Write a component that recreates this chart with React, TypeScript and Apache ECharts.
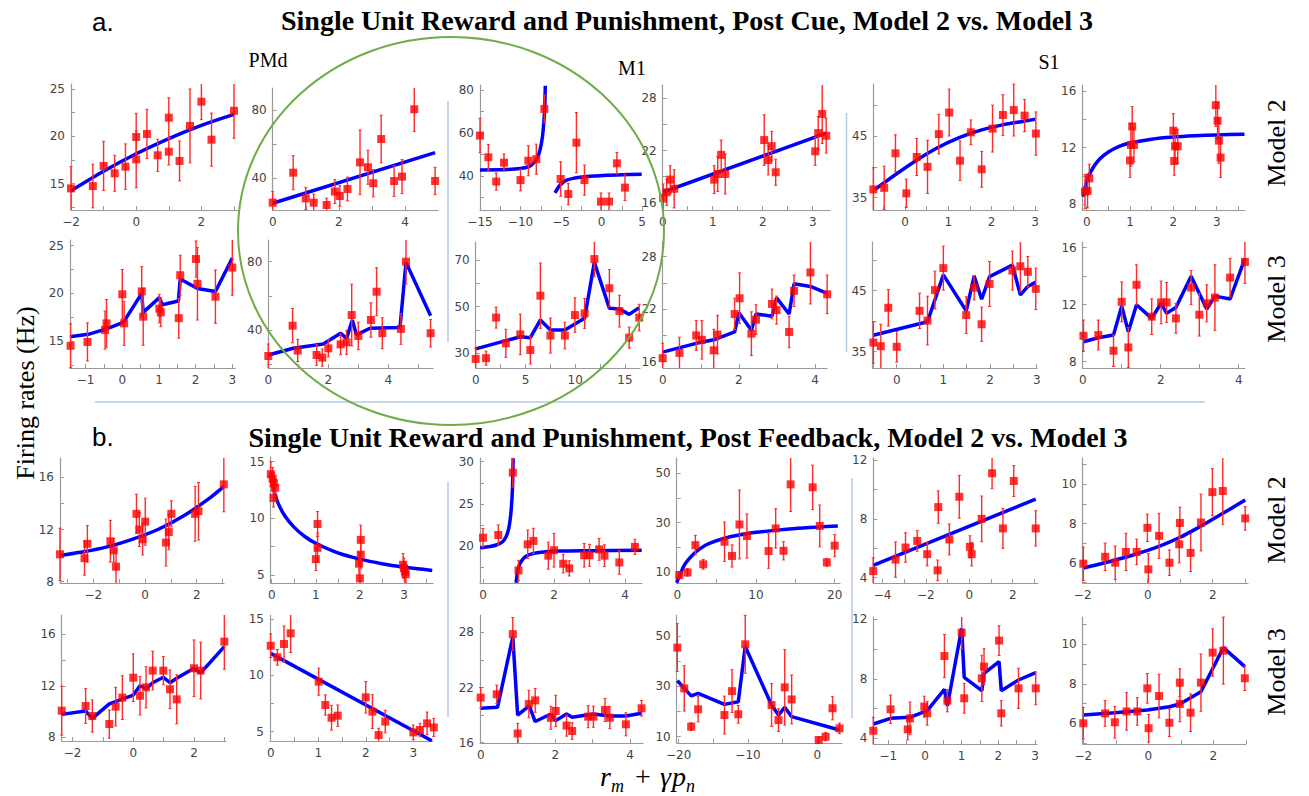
import React, { useEffect, useRef } from "react";
import * as echarts from "echarts";

// ---------- DATA: points are [x, y, errorHalfWidth]; fits are [x, y] ----------
// Row a / Model 2
const p11Pts = [[-2,14.5,2.3],[-1.33,14.75,2.3],[-1.0,16.87,2.6],[-0.66,16.1,1.9],[-0.33,16.8,2.4],[0,17.57,3.0],[0,19.93,2.5],[0.33,20.25,2.6],[0.66,18.0,1.7],[1.0,21.97,2.1],[1.0,18.38,1.4],[1.33,17.4,2.1],[1.65,21.1,3.9],[2.0,23.66,1.9],[2.31,19.65,2.8],[3.0,22.7,2.9]];
const p11Fit = [[-2,14.26],[-1,16.32],[0,18.16],[1,19.77],[2,21.16],[3,22.32]];
const p12Pts = [[0,25.7,6.5],[0.62,43.3,10],[1.0,28.2,6.5],[1.24,25.7,5],[1.63,24.3,4],[1.88,32.2,7],[2.03,29.6,6],[2.26,33.7,7],[2.64,49.4,19],[2.88,46.5,10],[3.04,37.1,8],[3.28,63.1,14],[3.67,38.4,9],[3.91,41,10],[4.28,80.6,13],[4.91,38.4,8]];
const p12Fit = [[0,25.3],[4.91,55.1]];
const p13Pts = [[-15,58.8,8],[-13.97,48.7,6],[-13.0,37.4,4],[-12.04,46.2,4],[-10.0,38.1,5],[-9.03,47.1,7],[-8.05,47.8,7],[-7.06,71.2,6.5],[-5.04,38.6,8],[-4.1,31.6,5],[-3.1,55.5,14],[-2.1,38.1,7],[-0.06,28.1,4],[0.93,28.1,4],[1.9,45.9,5],[2.9,34.6,6]];
const p13FitA = [[-15,42.8],[-12,43.0],[-10,43.5],[-9,44.3],[-8.5,45.6],[-8,47.8],[-7.6,52],[-7.3,58],[-7.1,66],[-7.0,73],[-6.94,82]];
const p13FitB = [[-5.74,32.2],[-5.4,34.3],[-5.12,35.8],[-4.7,37.2],[-4.3,38.1],[-3.5,38.9],[-2.65,39.4],[-1,40.0],[0.64,40.3],[2.5,40.6],[4.96,40.8]];
const p14Pts = [[0.01,16.55,1.6],[0.08,17.2,1.5],[0.15,18.65,1.6],[0.23,17.6,2.2],[1.03,18.65,1.6],[1.1,19.3,2],[1.17,21.5,1.7],[1.25,19.3,2.3],[2.03,23.2,2.9],[2.11,20.9,1.7],[2.18,22.5,1.7],[2.26,19.5,1.5],[3.05,21.9,1.6],[3.11,24.0,1.9],[3.19,26.2,3.4],[3.27,23.7,2]];
const p14Fit = [[0,17.2],[3.27,24.0]];
const p15Pts = [[-0.73,36.35,3.5],[-0.48,36.6,3.5],[-0.22,42.2,3],[0.03,35.7,2.3],[0.27,41.6,3],[0.52,40.0,4.3],[0.78,45.3,3.2],[1.02,48.8,3.8],[1.27,41.0,3.2],[1.52,45.6,2],[1.77,39.6,2.9],[2.02,46.2,3.8],[2.26,48.4,3.3],[2.51,49.2,4.2],[2.76,48.3,2.6],[3.02,45.4,3.5]];
const p15Fit = [[-0.69,36.35],[-0.25,38.6],[0.25,41.0],[0.75,43.1],[1.25,44.75],[1.75,45.95],[2.25,46.8],[2.75,47.4],[3.0,47.7]];
const p16Pts = [[-0.04,8.9,1.2],[0.02,8.95,1.2],[0.06,9.84,1.0],[1.0,11.1,1.2],[1.02,12.2,1.5],[1.05,13.5,1.4],[1.09,12.2,1.2],[2.0,13.2,1.2],[2.02,11.06,1.0],[2.04,12.1,1.2],[2.1,12.1,1.2],[2.98,15.0,1.5],[3.02,13.9,1.3],[3.05,12.5,1.6],[3.09,11.3,1.4]];
const p16Fit = [[-0.077,8.54],[-0.03,9.3],[0.04,9.95],[0.15,10.6],[0.3,11.2],[0.5,11.7],[0.75,12.1],[1.0,12.33],[1.5,12.6],[2.0,12.75],[2.5,12.84],[3.0,12.9],[3.64,12.95]];
// Row a / Model 3
const p21Pts = [[-1.41,14.5,2.3],[-0.95,14.9,2.0],[-0.47,16.15,2.0],[-0.43,16.85,2.5],[0,19.9,2.6],[0.05,16.85,2.3],[0.53,20.2,2.6],[0.57,17.55,3.0],[1.01,18.4,1.5],[1.05,18.0,1.5],[1.54,17.4,2.1],[1.58,21.9,2.1],[2.01,23.6,1.9],[2.05,21.0,3.8],[2.54,19.65,2.8],[3.0,22.7,2.9]];
const p21Fit = [[-1.43,15.45],[-0.93,15.7],[-0.45,16.25],[0.03,16.95],[0.53,20.0],[0.57,18.0],[1.01,19.55],[1.09,18.8],[1.53,19.2],[1.58,21.5],[2.05,20.5],[2.54,20.2],[3.0,23.7]];
const p22Pts = [[0,25.0,7],[0.81,42.7,10],[0.98,28.2,6.5],[1.61,25.6,6],[1.8,24.1,5],[2.0,29.5,5],[2.41,31.8,6],[2.61,33.0,7],[2.78,48.9,18],[3.0,36.7,8],[3.42,46.0,10],[3.61,62.5,14],[3.8,38.3,9],[4.42,40.8,9],[4.59,80.0,13],[5.41,38.3,8]];
const p22Fit = [[0,25.6],[0.83,29.5],[1.83,32.0],[2.41,38.3],[2.61,35.3],[2.8,46.0],[2.94,37.3],[3.39,41.2],[4.39,41.6],[4.59,79.6],[5.41,48.5]];
const p23Pts = [[0,27.6,4.5],[1.04,27.9,3],[2.05,45.3,4.5],[3.03,34.3,6],[4.48,38.1,8.7],[5.49,31.4,6],[6.5,54.7,14],[7.51,37.6,7.5],[8.96,37.6,5.7],[9.97,46.4,7.4],[10.94,47.1,6.4],[11.92,70.4,7.6],[13.43,57.9,8],[14.44,48.1,6.8],[15.42,36.7,4.5],[16.43,45.3,5.7]];
const p23Fit = [[0,31.9],[4.48,37.1],[5.49,36.7],[6.5,44.3],[7.51,40],[8.96,40],[10.94,45],[11.92,69],[13.43,49.3],[14.44,49],[15.42,46.7],[16.43,49.6]];
const p24Pts = [[0,16.4,1.7],[0.44,17.0,1.8],[0.88,19.0,1.7],[1.03,18.5,2.2],[1.34,17.3,2.4],[1.44,19.1,2.2],[1.89,21.45,1.8],[2.02,23.25,2.9],[2.33,19.2,2.5],[2.45,20.8,1.7],[2.87,22.6,1.7],[2.99,21.9,1.6],[3.32,19.4,1.8],[3.45,24.1,1.8],[3.88,26.2,3.6],[4.32,23.7,2.2]];
const p24Fit = [[0,17.1],[0.88,18.1],[1.34,18.5],[1.89,19.4],[2.0,21.6],[2.33,19.6],[2.45,21.45],[2.87,21.2],[2.99,23.3],[3.32,21.45],[3.45,24.9],[3.88,24.6],[4.32,23.8]];
const p25Pts = [[-0.5,36.5,3.4],[-0.34,35.9,3.6],[-0.18,42.2,3],[0,35.8,2.5],[0.49,41.7,2.9],[0.66,40.1,4],[0.82,45.1,3.1],[1.0,48.7,3.6],[1.49,41.0,3],[1.66,45.5,2],[1.82,39.5,2.8],[1.99,46.1,3.7],[2.48,48.3,3.2],[2.65,49.0,4.2],[2.81,48.1,2.5],[2.98,45.3,3.4]];
const p25Fit = [[-0.5,37.7],[-0.18,38.3],[0.66,39.9],[1.0,47.6],[1.49,41.7],[1.66,47.4],[1.82,43.6],[1.99,47.3],[2.48,49.2],[2.65,44.3],[2.81,45.7],[2.98,46.4]];
const p26Pts = [[0.02,9.82,1.1],[0.4,9.87,1.05],[0.79,8.77,1.1],[1.0,12.2,1.4],[1.17,9.0,1.4],[1.38,13.4,1.4],[1.77,11.16,1.25],[2.01,12.16,1.5],[2.15,12.16,1.4],[2.39,11.04,1.05],[2.78,13.2,1.2],[2.99,11.3,1.5],[3.18,12.1,1.3],[3.39,12.5,2.3],[3.78,13.9,1.35],[4.16,15.0,1.5]];
const p26Fit = [[0.02,9.4],[0.4,9.68],[0.79,9.87],[1.0,11.9],[1.17,10.1],[1.38,12.0],[1.77,11.04],[2.01,12.1],[2.15,11.4],[2.39,11.8],[2.78,14.0],[3.18,11.7],[3.39,12.6],[3.78,12.4],[4.16,15.25]];
// Row b / Model 2
const p31Pts = [[-3.29,10.1,2],[-2.34,9.8,1.3],[-2.23,10.9,1.4],[-1.34,11.1,1.6],[-1.21,10.4,0.9],[-1.12,9.15,1.3],[-0.33,13.2,1.5],[-0.22,12.0,1.3],[-0.09,11.25,1.2],[0.01,12.6,1.8],[0.81,11.0,1.8],[0.92,11.8,1.35],[1.02,13.2,1.0],[1.94,13.2,2.1],[2.07,13.4,2.2],[3.05,15.46,2.1]];
const p31Fit = [[-3.29,10.0],[-2.5,10.25],[-1.5,10.65],[-0.5,11.25],[0.5,12.0],[1.5,13.05],[2.5,14.4],[3.05,15.3]];
const p32Pts = [[-0.02,13.9,1.1],[0.02,13.5,1.0],[0.05,13.1,0.9],[0.08,12.7,0.8],[0.04,11.8,0.8],[1.0,6.4,1.0],[1.04,9.5,1.1],[1.04,7.4,1.3],[1.98,6.0,1.0],[2.02,8.1,1.3],[2.02,6.8,1.2],[2.0,4.7,0.8],[2.98,5.9,1.0],[3.0,5.6,0.9],[3.02,5.3,0.8],[3.04,5.06,0.7]];
const p32Fit = [[-0.02,14.1],[0.02,13.1],[0.07,12.2],[0.15,11.3],[0.3,10.2],[0.5,9.25],[0.75,8.4],[1.0,7.8],[1.5,6.95],[2.0,6.4],[2.5,6.0],[3.0,5.7],[3.64,5.4]];
const p33Pts = [[0,20.98,1.1],[0.43,21.3,1.2],[0.84,28.7,1.7],[1.0,17.1,1.2],[1.26,20.2,1.7],[1.42,20.6,1.5],[1.84,18.85,1.6],[2.0,19.5,2],[2.26,17.9,1.1],[2.43,17.35,0.9],[2.85,18.9,1.4],[3.0,18.9,1.3],[3.27,19.6,1.3],[3.42,18.85,1.3],[3.84,18.05,1.4],[4.28,19.9,0.9]];
const p33FitA = [[-0.08,19.8],[0.2,19.95],[0.4,20.15],[0.55,20.5],[0.65,21.1],[0.72,22.0],[0.77,23.3],[0.8,24.6],[0.83,26.8],[0.85,30.4]];
const p33FitB = [[0.93,15.65],[0.97,16.8],[1.02,17.7],[1.1,18.3],[1.2,18.75],[1.4,19.1],[1.7,19.3],[2.1,19.4],[3.0,19.45],[4.47,19.5]];
const p34Pts = [[0.25,8.6,1.5],[1.3,9.7,1.5],[2.3,20.8,4],[3.3,13.0,2],[6.0,22.2,8],[6.95,16.4,4.5],[7.9,29.2,14],[8.85,24.5,9],[11.6,18.4,7],[12.5,27.6,8],[13.5,18.5,3.7],[14.4,45.5,11],[17.2,44.3,9],[18.1,28.6,8.5],[19.0,13.8,1.6],[20.0,20.6,4.5]];
const p34Fit = [[-0.08,5.5],[0.5,10.0],[1,13.2],[2,17.0],[3,19.6],[4,21.4],[6,23.6],[8,25.0],[10,26.0],[13,27.0],[16,27.8],[20.4,28.6]];
const p35Pts = [[-4.43,4.45,0.9],[-3.4,5.23,1.2],[-2.94,6.05,1.0],[-2.4,6.5,0.7],[-1.94,5.6,0.8],[-1.43,8.8,1.1],[-1.46,4.5,0.7],[-0.92,6.6,1.05],[-0.46,9.5,1.45],[0.03,6.1,0.75],[0.11,5.6,0.8],[0.57,8.0,1.55],[1.05,11.1,1.05],[1.55,7.35,1.35],[2.05,10.57,1.05],[3.06,7.35,1.2]];
const p35Fit = [[-4.43,4.84],[3.06,9.34]];
const p36Pts = [[-1.98,5.95,0.85],[-1.31,6.3,0.7],[-1.0,6.0,0.85],[-0.67,6.55,0.95],[-0.34,6.55,0.65],[-0.01,7.78,0.7],[0.02,5.66,0.8],[0.35,7.37,1.15],[0.67,6.0,0.65],[0.97,6.94,0.95],[0.99,8.03,0.8],[1.32,6.5,0.95],[1.64,8.05,1.45],[1.99,9.6,1.2],[2.31,9.66,1.7],[3.0,8.26,0.6]];
const p36Fit = [[-1.98,5.73],[-1.5,5.92],[-1,6.14],[-0.5,6.37],[0,6.63],[0.5,6.94],[1,7.3],[1.5,7.74],[2,8.22],[2.5,8.7],[3.0,9.2]];
// Row b / Model 3
const p41Pts = [[-2.36,10.07,1.9],[-1.57,10.43,1.35],[-1.35,9.65,1.25],[-0.79,9.03,1.1],[-0.58,10.38,1.5],[-0.36,11.08,1.7],[0,12.63,1.85],[0.22,11.23,1.5],[0.42,11.88,1.6],[0.64,13.18,1.5],[0.99,13.18,1.1],[1.21,11.73,1.5],[1.43,10.95,1.9],[2.0,13.36,2.2],[2.22,13.18,2.2],[3.0,15.43,2.15]];
const p41Fit = [[-2.36,9.78],[-1.57,10.04],[-1.35,9.47],[-0.79,10.59],[0,11.28],[0.22,12.0],[0.44,11.8],[0.64,12.24],[0.99,12.66],[1.21,12.24],[1.43,12.58],[2.0,13.36],[2.22,13.0],[3.0,15.04]];
const p42Pts = [[0,12.63,1.05],[0.14,11.6,0.7],[0.28,12.78,1.6],[0.42,13.73,1.7],[1.01,9.44,1.2],[1.15,7.37,0.9],[1.28,6.24,1.1],[1.41,6.42,0.95],[2.0,8.05,1.4],[2.14,6.78,1.5],[2.27,4.7,0.6],[2.41,5.9,1.0],[3.0,4.94,0.65],[3.14,5.15,0.6],[3.29,5.74,1.0],[3.43,5.38,0.8]];
const p42Fit = [[0,11.95],[3.39,4.2]];
const p43Pts = [[0,20.9,1.1],[0.43,21.26,1.0],[0.86,27.8,1.8],[0.99,17.0,1.1],[1.29,20.2,1.5],[1.46,20.6,1.3],[1.88,18.7,1.25],[2.01,19.45,1.7],[2.3,17.86,1.15],[2.45,17.27,0.9],[2.88,18.83,1.2],[3.02,18.83,1.15],[3.33,19.56,1.25],[3.46,18.72,1.2],[3.89,18.0,1.25],[4.31,19.74,0.85]];
const p43Fit = [[0,19.74],[0.45,19.85],[0.86,27.5],[0.99,19.0],[1.3,20.0],[1.46,18.3],[1.88,19.12],[2.01,18.4],[2.3,19.12],[2.45,18.76],[3.02,19.12],[3.46,18.9],[3.89,18.9],[4.31,19.2]];
const p44Pts = [[-20.2,45.4,9.5],[-19.2,29.2,9],[-18.2,14.0,1.5],[-17.2,20.9,5],[-13.4,18.6,7.5],[-12.3,28.1,8.5],[-11.4,18.9,3.5],[-10.4,46.7,11.5],[-6.6,22.6,8.5],[-5.6,16.6,4.5],[-4.7,29.6,15],[-3.7,24.8,9.7],[0.2,8.7,1.2],[1.2,10.0,1.6],[2.2,21.3,4.6],[3.2,13.3,2.1]];
const p44Fit = [[-20.2,32.25],[-18.2,26.2],[-17.2,27.2],[-13.4,22.85],[-11.4,23.9],[-10.4,45.8],[-6.6,22.6],[-5.6,18.6],[-4.7,21.7],[-3.7,17.95],[3.2,12.65]];
const p45Pts = [[-1.41,4.51,0.9],[-0.94,5.95,0.95],[-0.47,4.6,0.7],[-0.41,5.34,1.1],[-0.02,6.13,0.7],[0.06,5.68,0.8],[0.53,9.53,1.45],[0.61,6.53,0.75],[1.0,11.1,1.1],[1.07,6.69,1.0],[1.55,8.03,1.55],[1.61,8.82,1.2],[2.02,10.57,1.0],[2.08,5.68,0.85],[2.55,7.36,1.35],[3.02,7.36,1.1]];
const p45Fit = [[-1.41,4.96],[-0.94,5.34],[-0.41,5.41],[0.06,5.86],[0.53,7.29],[0.61,6.17],[1.0,11.4],[1.07,8.1],[1.55,7.2],[1.61,8.37],[2.02,9.15],[2.08,7.2],[2.55,7.92],[3.02,8.41]];
const p46Pts = [[-2.0,6.0,0.8],[-1.33,6.5,0.65],[-1.03,6.05,0.8],[-0.67,6.6,0.95],[-0.34,6.6,0.7],[-0.03,7.77,0.75],[0.01,5.75,0.7],[0.33,7.38,1.1],[0.65,6.03,0.7],[0.97,8.06,0.7],[0.97,6.98,0.9],[1.3,6.54,0.95],[1.62,8.06,1.45],[1.98,9.58,1.2],[2.31,9.68,1.7],[2.97,8.28,0.62]];
const p46Fit = [[-2.0,6.42],[-1.03,6.54],[-0.03,6.67],[0.65,6.84],[0.97,6.98],[1.62,7.6],[2.31,9.83],[2.97,8.87]];

// tick labels
const p11XT = [-2,0,2], p11YT = [15,20,25];
const p12XT = [0,2,4], p12YT = [40,80];
const p13XT = [-15,-10,-5,0,5], p13YT = [40,60,80];
const p14XT = [0,1,2,3], p14YT = [16,22,28];
const p15XT = [0,1,2,3], p15YT = [35,45];
const p16XT = [0,1,2,3], p16YT = [8,12,16];
const p21XT = [-1,0,1,2,3], p21YT = [15,20,25];
const p22XT = [0,2,4], p22YT = [40,80];
const p23XT = [0,5,10,15], p23YT = [30,50,70];
const p24XT = [0,2,4], p24YT = [16,22,28];
const p25XT = [0,1,2,3], p25YT = [35,45];
const p26XT = [0,2,4], p26YT = [8,12,16];
const p31XT = [-2,0,2], p31YT = [8,12,16];
const p32XT = [0,1,2,3], p32YT = [5,10,15];
const p33XT = [0,2,4], p33YT = [20,25,30];
const p34XT = [0,10,20], p34YT = [10,30,50];
const p35XT = [-4,-2,0,2], p35YT = [4,8,12];
const p36XT = [-2,0,2], p36YT = [6,8,10];
const p41XT = [-2,0,2], p41YT = [8,12,16];
const p42XT = [0,1,2,3], p42YT = [5,10,15];
const p43XT = [0,2,4], p43YT = [16,22,28];
const p44XT = [-20,-10,0], p44YT = [10,30,50];
const p45XT = [-1,0,1,2,3], p45YT = [4,8,12];
const p46XT = [-2,0,2], p46YT = [6,8,10];

// texts
const titleA = "Single Unit Reward and Punishment, Post Cue, Model 2 vs. Model 3";
const titleB = "Single Unit Reward and Punishment, Post Feedback, Model 2 vs. Model 3";
const areaNames = ["PMd", "M1", "S1"];
const rowNames = ["Model 2", "Model 3", "Model 2", "Model 3"];
const yTitle = "Firing rates (Hz)";

// ---------- panel composition ----------
const panels = [
  { pts: p11Pts, fits: [p11Fit], smooth: true, xt: p11XT, yt: p11YT },
  { pts: p12Pts, fits: [p12Fit], smooth: true, xt: p12XT, yt: p12YT },
  { pts: p13Pts, fits: [p13FitA, p13FitB], smooth: true, xt: p13XT, yt: p13YT },
  { pts: p14Pts, fits: [p14Fit], smooth: true, xt: p14XT, yt: p14YT },
  { pts: p15Pts, fits: [p15Fit], smooth: true, xt: p15XT, yt: p15YT },
  { pts: p16Pts, fits: [p16Fit], smooth: true, xt: p16XT, yt: p16YT },
  { pts: p21Pts, fits: [p21Fit], smooth: false, xt: p21XT, yt: p21YT },
  { pts: p22Pts, fits: [p22Fit], smooth: false, xt: p22XT, yt: p22YT },
  { pts: p23Pts, fits: [p23Fit], smooth: false, xt: p23XT, yt: p23YT },
  { pts: p24Pts, fits: [p24Fit], smooth: false, xt: p24XT, yt: p24YT },
  { pts: p25Pts, fits: [p25Fit], smooth: false, xt: p25XT, yt: p25YT },
  { pts: p26Pts, fits: [p26Fit], smooth: false, xt: p26XT, yt: p26YT },
  { pts: p31Pts, fits: [p31Fit], smooth: true, xt: p31XT, yt: p31YT },
  { pts: p32Pts, fits: [p32Fit], smooth: true, xt: p32XT, yt: p32YT },
  { pts: p33Pts, fits: [p33FitA, p33FitB], smooth: true, xt: p33XT, yt: p33YT },
  { pts: p34Pts, fits: [p34Fit], smooth: true, xt: p34XT, yt: p34YT },
  { pts: p35Pts, fits: [p35Fit], smooth: true, xt: p35XT, yt: p35YT },
  { pts: p36Pts, fits: [p36Fit], smooth: true, xt: p36XT, yt: p36YT },
  { pts: p41Pts, fits: [p41Fit], smooth: false, xt: p41XT, yt: p41YT },
  { pts: p42Pts, fits: [p42Fit], smooth: false, xt: p42XT, yt: p42YT },
  { pts: p43Pts, fits: [p43Fit], smooth: false, xt: p43XT, yt: p43YT },
  { pts: p44Pts, fits: [p44Fit], smooth: false, xt: p44XT, yt: p44YT },
  { pts: p45Pts, fits: [p45Fit], smooth: false, xt: p45XT, yt: p45YT },
  { pts: p46Pts, fits: [p46Fit], smooth: false, xt: p46XT, yt: p46YT },
];

// layout: plot box in px, and two calibration pairs [value, px, value, px] per axis
const layouts = [
  { l: 71, r: 240, t: 84, b: 210, x: [-2, 71, 3, 234], y: [25, 89, 15, 183.7] },
  { l: 272.7, r: 438, t: 88, b: 210, x: [0, 272.7, 4, 405], y: [80, 110.3, 40, 178.3] },
  { l: 480, r: 643, t: 85, b: 210, x: [-15, 480, 5, 642], y: [80, 90, 40, 176] },
  { l: 662.7, r: 830, t: 85, b: 210, x: [0, 662.7, 3, 812.7], y: [28, 98.3, 16, 202.7] },
  { l: 873.3, r: 1038, t: 84, b: 210, x: [0, 905, 3, 1035], y: [45, 136, 35, 197.7] },
  { l: 1082.3, r: 1245, t: 85, b: 210, x: [0, 1086.7, 3, 1216.7], y: [16, 91, 12, 147.7] },
  { l: 70, r: 235, t: 240, b: 368, x: [0, 122.3, 3, 232.3], y: [25, 245.7, 15, 341] },
  { l: 268.3, r: 433, t: 240, b: 368, x: [0, 268.3, 4, 388.3], y: [80, 261.7, 40, 330.3] },
  { l: 475.7, r: 640, t: 242, b: 368, x: [0, 475.7, 15, 625], y: [70, 260, 30, 353.3] },
  { l: 662.7, r: 827, t: 242, b: 368, x: [0, 662.7, 4, 815], y: [28, 256.7, 16, 361.7] },
  { l: 872.7, r: 1037, t: 242, b: 368, x: [0, 896.7, 3, 1036.7], y: [45, 290.7, 35, 351.7] },
  { l: 1082.7, r: 1245, t: 242, b: 368, x: [0, 1082.7, 4, 1238.7], y: [16, 247.7, 8, 361.7] },
  { l: 60, r: 224, t: 458, b: 583, x: [0, 145, 2, 196.7], y: [16, 477.3, 8, 581.7] },
  { l: 270.7, r: 433, t: 457, b: 583, x: [0, 271.7, 3, 404], y: [15, 461.7, 5, 575] },
  { l: 480, r: 642, t: 458, b: 583, x: [0, 483, 4, 625], y: [30, 461.7, 20, 546] },
  { l: 676.7, r: 840, t: 458, b: 583, x: [0, 677.3, 20, 834.7], y: [50, 473.3, 10, 571.7] },
  { l: 873.3, r: 1038, t: 458, b: 583, x: [0, 969.3, 2, 1012.7], y: [12, 460, 4, 577.7] },
  { l: 1082.7, r: 1248, t: 458, b: 583, x: [0, 1147.7, 2, 1212.7], y: [10, 484.3, 6, 562.7] },
  { l: 61.7, r: 226, t: 615, b: 741, x: [0, 133.3, 2, 194], y: [16, 634.3, 8, 737.3] },
  { l: 270, r: 433, t: 615, b: 741, x: [0, 270.7, 3, 413.3], y: [15, 619, 5, 731.7] },
  { l: 480, r: 643, t: 615, b: 743, x: [0, 480.7, 4, 630], y: [28, 632.3, 16, 742.7] },
  { l: 676.7, r: 842, t: 615, b: 743, x: [-20, 678.7, 0, 817.3], y: [50, 636, 10, 736.7] },
  { l: 873.3, r: 1037, t: 617, b: 744, x: [0, 925, 3, 1035], y: [12, 619.3, 4, 738.3] },
  { l: 1082.7, r: 1246, t: 617, b: 744, x: [0, 1148.3, 2, 1213.3], y: [10, 644.3, 6, 723.3] },
];

const RED = "#ff0000";
const BLUE = "#0000ff";
const AXIS = "#9a9a9a";
const LABEL = "#444444";
const SERIF = "'Liberation Serif', 'DejaVu Serif', serif";
const SANS = "'DejaVu Sans', 'Liberation Sans', sans-serif";

function ranges(lay: any) {
  const sx = (lay.x[3] - lay.x[1]) / (lay.x[2] - lay.x[0]);
  const sy = (lay.y[3] - lay.y[1]) / (lay.y[2] - lay.y[0]);
  return {
    xmin: lay.x[0] + (lay.l - lay.x[1]) / sx,
    xmax: lay.x[0] + (lay.r - lay.x[1]) / sx,
    ymax: lay.y[0] + (lay.t - lay.y[1]) / sy,
    ymin: lay.y[0] + (lay.b - lay.y[1]) / sy,
  };
}

function tickValues(major: number[], min: number, max: number) {
  const step = (major[1] - major[0]) / 2;
  const out: number[] = [];
  const start = Math.ceil((min - major[0]) / step - 1e-9);
  for (let k = start; major[0] + k * step <= max + 1e-9; k++) {
    out.push(+(major[0] + k * step).toFixed(6));
  }
  return out;
}

const fmt = (v: number) => (v < 0 ? "\u2212" + Math.abs(v) : String(v));

function buildOption() {
  const grid: any[] = [];
  const xAxis: any[] = [];
  const yAxis: any[] = [];
  const series: any[] = [];
  panels.forEach((p, i) => {
    const lay = layouts[i];
    const rg = ranges(lay);
    grid.push({ left: lay.l, top: lay.t, width: lay.r - lay.l, height: lay.b - lay.t, containLabel: false });
    const axisCommon = {
      type: "value",
      gridIndex: i,
      splitLine: { show: false },
      axisLine: { show: true, onZero: false, lineStyle: { color: AXIS, width: 1.2 } },
    };
    xAxis.push({
      ...axisCommon,
      min: rg.xmin,
      max: rg.xmax,
      axisTick: { show: true, inside: true, length: 4, customValues: tickValues(p.xt, rg.xmin, rg.xmax), lineStyle: { color: AXIS } },
      axisLabel: { customValues: p.xt, formatter: fmt, fontSize: 12, color: LABEL, fontFamily: SANS, margin: 6 },
    });
    yAxis.push({
      ...axisCommon,
      min: rg.ymin,
      max: rg.ymax,
      axisTick: { show: true, inside: true, length: 4, customValues: tickValues(p.yt, rg.ymin, rg.ymax), lineStyle: { color: AXIS } },
      axisLabel: { customValues: p.yt, formatter: fmt, fontSize: 12, color: LABEL, fontFamily: SANS, margin: 6 },
    });
    p.fits.forEach((f) => {
      series.push({
        type: "line",
        xAxisIndex: i,
        yAxisIndex: i,
        data: f,
        smooth: p.smooth ? 0.3 : false,
        symbol: "none",
        showSymbol: false,
        lineStyle: { color: BLUE, width: 3.5 },
        z: 2,
        silent: true,
        clip: true,
      });
    });
    series.push({
      type: "custom",
      xAxisIndex: i,
      yAxisIndex: i,
      data: p.pts,
      encode: { x: 0, y: 1 },
      z: 3,
      silent: true,
      renderItem: (params: any, api: any) => {
        const x = api.value(0), y = api.value(1), e = api.value(2);
        const hiV = Math.min(y + e, rg.ymax), loV = Math.max(y - e, rg.ymin);
        const a = api.coord([x, hiV]);
        const b = api.coord([x, loV]);
        const children: any[] = [
          { type: "line", shape: { x1: a[0], y1: a[1], x2: b[0], y2: b[1] }, style: { stroke: "#ff2a2a", lineWidth: 1.4 } },
        ];
        if (y + e <= rg.ymax) children.push({ type: "line", shape: { x1: a[0] - 1.5, y1: a[1], x2: a[0] + 1.5, y2: a[1] }, style: { stroke: "#ff2a2a", lineWidth: 1 } });
        if (y - e >= rg.ymin) children.push({ type: "line", shape: { x1: b[0] - 1.5, y1: b[1], x2: b[0] + 1.5, y2: b[1] }, style: { stroke: "#ff2a2a", lineWidth: 1 } });
        return { type: "group", children };
      },
    });
    series.push({
      type: "scatter",
      xAxisIndex: i,
      yAxisIndex: i,
      data: p.pts.map((q) => [q[0], q[1]]),
      symbol: "rect",
      symbolSize: 8,
      itemStyle: { color: RED },
      z: 4,
      silent: true,
      clip: false,
    });
  });

  const txt = (x: number, y: number, text: string, size: number, opts: any = {}) => ({
    type: "text",
    x,
    y,
    rotation: opts.rotation || 0,
    z: 20,
    silent: true,
    style: {
      text,
      fontSize: size,
      fontFamily: opts.family || SERIF,
      fontWeight: opts.weight || "normal",
      fontStyle: opts.style || "normal",
      fill: opts.fill || "#000",
      align: opts.align || "center",
      textAlign: opts.align || "center",
      verticalAlign: "middle",
      textVerticalAlign: "middle",
    },
  });

  const sep = (x1: number, y1: number, x2: number, y2: number) => ({
    type: "line",
    silent: true,
    z: 1,
    shape: { x1, y1, x2, y2 },
    style: { stroke: "#b4c7e7", lineWidth: 1.5 },
  });

  const graphic: any[] = [
    sep(448, 101, 448, 342),
    sep(846.5, 113, 846.5, 352),
    sep(448, 482, 448, 717),
    sep(852, 478, 852, 718),
    sep(95, 402, 1205, 402),
    {
      type: "ellipse",
      silent: true,
      z: 15,
      shape: { cx: 451, cy: 231, rx: 213, ry: 194 },
      style: { fill: "none", stroke: "#70ad47", lineWidth: 2 },
    },
    txt(92, 22, "a.", 26, { family: "'Liberation Sans', Arial, sans-serif", align: "left" }),
    txt(92, 437, "b.", 26, { family: "'Liberation Sans', Arial, sans-serif", align: "left" }),
    txt(687, 20, titleA, 28, { weight: "bold" }),
    txt(688, 437, titleB, 28, { weight: "bold" }),
    txt(268, 60, areaNames[0], 20),
    txt(632, 68, areaNames[1], 20),
    txt(1049, 62, areaNames[2], 20),
    txt(25, 393, yTitle, 26, { rotation: Math.PI / 2 }),
    txt(1276, 143, rowNames[0], 26, { rotation: Math.PI / 2 }),
    txt(1276, 299, rowNames[1], 26, { rotation: Math.PI / 2 }),
    txt(1276, 520, rowNames[2], 26, { rotation: Math.PI / 2 }),
    txt(1276, 672, rowNames[3], 26, { rotation: Math.PI / 2 }),
    txt(600, 776, "r", 28, { style: "italic", align: "left" }),
    txt(611, 786, "m", 18, { style: "italic", align: "left" }),
    txt(635, 776, "+", 28, { align: "left" }),
    txt(660, 776, "\u03b3", 28, { style: "italic", align: "left" }),
    txt(672, 776, "p", 28, { style: "italic", align: "left" }),
    txt(686, 786, "n", 18, { style: "italic", align: "left" }),
  ];

  return { animation: false, backgroundColor: "#ffffff", grid, xAxis, yAxis, series, graphic };
}

export default function App() {
  const ref = useRef<HTMLDivElement>(null);
  useEffect(() => {
    if (!ref.current) return;
    const chart = echarts.init(ref.current, undefined, { renderer: "svg" });
    chart.setOption(buildOption() as any);
    return () => chart.dispose();
  }, []);
  return (
    <div
      ref={ref}
      style={{ position: "fixed", left: 0, top: 0, width: 1309, height: 796, background: "#fff" }}
    />
  );
}
